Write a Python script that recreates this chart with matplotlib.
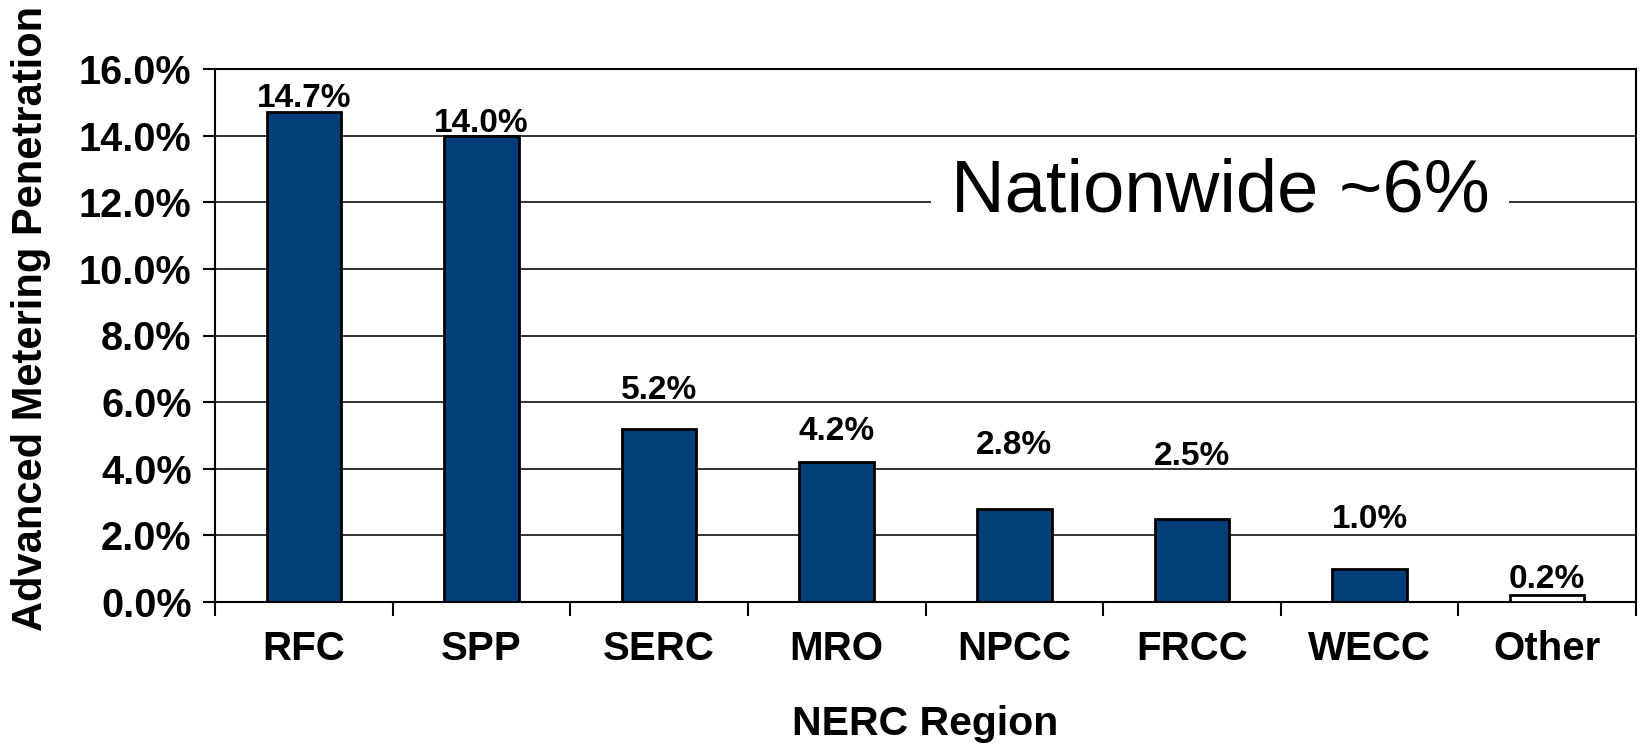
import matplotlib
matplotlib.use("Agg")
import matplotlib.pyplot as plt
import numpy as np

plt.rcParams['font.family'] = ['Liberation Sans', 'DejaVu Sans']

regions = ["RFC", "SPP", "SERC", "MRO", "NPCC", "FRCC", "WECC", "Other"]
penetration = [14.7, 14.0, 5.2, 4.2, 2.8, 2.5, 1.0, 0.2]
value_labels = ["14.7%", "14.0%", "5.2%", "4.2%", "2.8%", "2.5%", "1.0%", "0.2%"]
# baselines of the value labels (in % units)
label_y = [14.86, 14.11, 6.10, 4.86, 4.44, 4.11, 2.22, 0.42]
bar_colors = ['#023f78'] * 7 + ['white']
y_ticks = [0, 2, 4, 6, 8, 10, 12, 14, 16]
y_tick_labels = ["0.0%", "2.0%", "4.0%", "6.0%", "8.0%", "10.0%", "12.0%", "14.0%", "16.0%"]

fig = plt.figure(figsize=(16.41, 7.44), dpi=100)
ax = fig.add_axes([215 / 1641, (744 - 602) / 744, (1636 - 215) / 1641, 533 / 744])

x = np.arange(len(regions))
ax.bar(x, penetration, width=0.42, color=bar_colors, edgecolor='black', linewidth=2, zorder=3)

for xi, ly, txt in zip(x, label_y, value_labels):
    ax.text(xi, ly, txt, ha='center', va='baseline', fontsize=24, fontweight='bold', zorder=4)

ax.set_xlim(-0.5, len(regions) - 0.5)
ax.set_ylim(0, 16)
ax.set_yticks(y_ticks)
ax.set_yticklabels(y_tick_labels, fontsize=28.5, fontweight='bold')
ax.yaxis.grid(True, color='#222222', linewidth=1.3, zorder=0)
ax.set_axisbelow(True)

ax.set_xticks(x)
ax.set_xticklabels(regions, fontsize=29, fontweight='bold')
ax.set_xticks(np.arange(-0.5, len(regions), 1.0), minor=True)
ax.tick_params(axis='x', which='major', length=0, pad=20)
ax.tick_params(axis='x', which='minor', length=10, width=1.5, direction='out')
ax.tick_params(axis='y', length=9, width=1.5, direction='out', pad=8)

for s in ax.spines.values():
    s.set_linewidth(1.5)
    s.set_color('black')

ax.set_xlabel("NERC Region", fontsize=29.5, fontweight='bold')
ax.xaxis.set_label_coords(0.5, -0.193)
fig.text(31 / 1641, (744 - 318) / 744, "Advanced Metering Penetration", rotation=90,
         ha='center', va='center', fontsize=30, fontweight='bold')

ax.text((1220 - 215) / 1421, (602 - 191.5) / 533, "Nationwide ~6%", transform=ax.transAxes,
        ha='center', va='center', fontsize=53.5, zorder=5,
        bbox=dict(boxstyle='square,pad=0.27', fc='white', ec='none'))

fig.savefig("out.png", dpi=100)
